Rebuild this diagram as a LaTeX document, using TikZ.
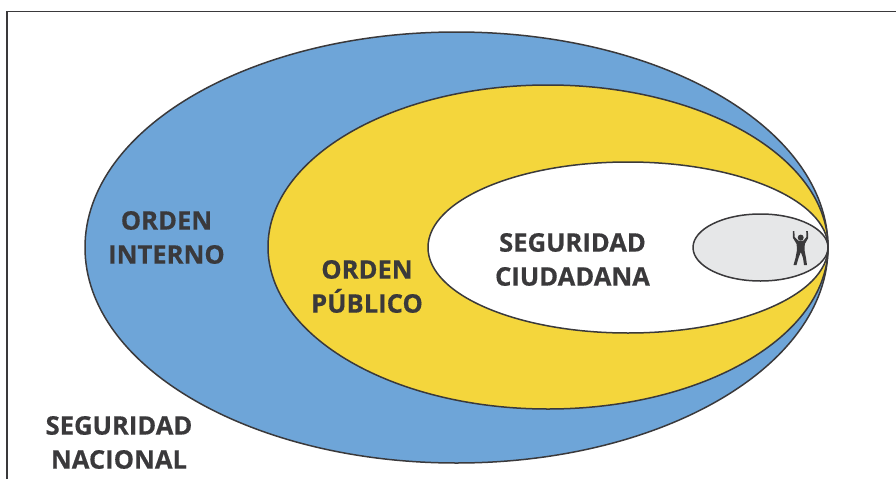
\documentclass[tikz,border=0pt]{standalone}
\usepackage{fontspec}
\setmainfont[BoldFeatures={FakeBold=0.5}]{Open Sans}
\definecolor{blue1}{RGB}{110, 165, 216}
\definecolor{yellow1}{RGB}{244, 214, 60}
\definecolor{gray1}{RGB}{230, 231, 232}
\definecolor{ink1}{RGB}{58, 57, 59}
\usetikzlibrary{shapes.geometric, positioning}
\tikzset{
  zone/.style={draw=ink1, line width=1.5pt, ellipse, inner sep=0pt},
  zonelabel/.style={text=ink1, align=center, font=\fontsize{25.6}{34}\selectfont\bfseries}
}
\begin{document}
\begin{tikzpicture}[x=1pt, y=-1pt]
  \useasboundingbox (0,0) rectangle (896,479);
  % frame
  \coordinate (framebottom) at (7,479);
  \coordinate (framecorner) at (7,11.5);
  \coordinate (frameright) at (896,11.5);
  \draw[ink1, line width=1.8pt] (framebottom) -- (framecorner) -- (frameright);
  % nested zones
  \node[zone, fill=blue1, minimum width=743pt, minimum height=431pt] (nacional) at (456.5,247.5) {};
  \node[zone, fill=yellow1, minimum width=560pt, minimum height=324pt] (interno) at (548,247) {};
  \node[zone, fill=white, minimum width=400pt, minimum height=171pt] (publico) at (628,247.5) {};
  \node[zone, fill=gray1, minimum width=135pt, minimum height=67pt] (ciudadana) at (760.5,247.5) {};
  % person
  \fill[ink1] (800.7,237.6) circle (3pt);
  \fill[ink1] (792.8,231) -- (794.4,231) -- (794.6,237) -- (798,240.5) -- (803.5,240.5)
    -- (806.4,237) -- (806.2,231) -- (807.9,231) -- (808.2,238) -- (804.8,244) -- (804.5,250)
    -- (806,258) -- (807,265) -- (804,265) -- (803,258) -- (800.8,252) -- (798.5,258)
    -- (796.5,265) -- (793.5,265) -- (795.5,258) -- (797,250) -- (796.6,244) -- (793,238) -- cycle;
  % labels
  \node[zonelabel] (lblinterno) at (166.5,237.5) {ORDEN\\INTERNO};
  \node[zonelabel] (lblpublico) at (367,286.5) {ORDEN\\PÚBLICO};
  \node[zonelabel] (lblciudadana) at (572.5,259.5) {SEGURIDAD\\CIUDADANA};
  \node[zonelabel] (lblnacional) at (119,442.5) {SEGURIDAD\\NACIONAL};
\end{tikzpicture}
\end{document}
